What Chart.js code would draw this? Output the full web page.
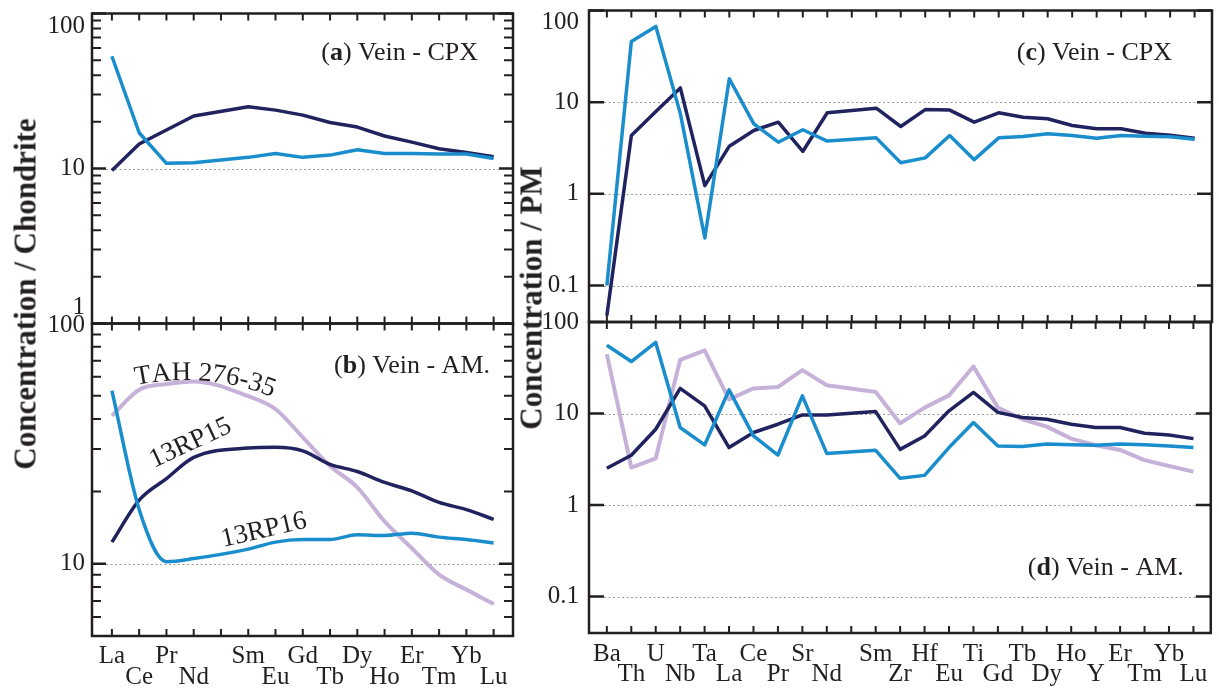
<!DOCTYPE html>
<html>
<head>
<meta charset="utf-8">
<script src="https://cdn.jsdelivr.net/npm/chart.js@4.4.0/dist/chart.umd.min.js"></script>
<style>
  body { margin: 0; background: #fff; }
  #wrap { position: relative; width: 1219px; height: 691px; overflow: hidden; background: #fff; }
  canvas { position: absolute; }
  .ytitle {
    position: absolute; font: bold 31px "Liberation Serif", serif; color: #231f20;
    white-space: nowrap; line-height: 1; transform: translate(-50%, -50%) rotate(-90deg);
  }
</style>
</head>
<body>
<div id="wrap">
  <canvas id="pa" width="520" height="330" style="left:0;top:0"></canvas>
  <canvas id="pb" width="520" height="391" style="left:0;top:300px"></canvas>
  <canvas id="pc" width="694" height="330" style="left:525px;top:0"></canvas>
  <canvas id="pd" width="694" height="391" style="left:525px;top:300px"></canvas>
  <div class="ytitle" style="left:25px;top:294px">Concentration / Chondrite</div>
  <div class="ytitle" style="left:531px;top:298px">Concentration / PM</div>
</div>
<script>
// REE (chondrite-normalised), '' = Pm slot
var reeLabels = ['La', 'Ce', 'Pr', 'Nd', '', 'Sm', 'Eu', 'Gd', 'Tb', 'Dy', 'Ho', 'Er', 'Tm', 'Yb', 'Lu'];
var reeRow = [0, 1, 0, 1, 0, 0, 1, 0, 1, 0, 1, 0, 1, 0, 1];

// spider diagram (primitive mantle normalised)
var pmLabels = ['Ba', 'Th', 'U', 'Nb', 'Ta', 'La', 'Ce', 'Pr', 'Sr', 'Nd', '', 'Sm', 'Zr', 'Hf', 'Eu', 'Ti', 'Gd', 'Tb', 'Dy', 'Ho', 'Y', 'Er', 'Tm', 'Yb', 'Lu'];
var pmRow = [0, 1, 0, 1, 0, 1, 0, 1, 0, 1, 0, 0, 1, 0, 1, 0, 1, 0, 1, 0, 1, 0, 1, 0, 1];

// (a) vein cpx
var cpxRee13RP16 = [53, 17.0, 10.8, 10.9, null, 11.8, 12.5, 11.8, 12.2, 13.2, 12.5, 12.5, 12.4, 12.4, 11.6];
var cpxRee13RP15 = [9.7, 14.4, 17.7, 21.8, null, 25.0, 23.8, 22.1, 19.8, 18.5, 16.2, 14.8, 13.4, 12.7, 11.9];
// (b) vein amphibole
var amRee13RP16 = [52.6, 16.8, 10.2, 10.5, null, 11.5, 12.3, 12.6, 12.6, 13.2, 13.1, 13.4, 12.9, 12.6, 12.2];
var amRee13RP15 = [12.3, 18.4, 22.6, 27.7, null, 30.3, 30.5, 29.5, 25.9, 24.2, 21.8, 20.1, 18.0, 16.8, 15.3];
var amReeTAH = [41.3, 53, 56, 57.4, null, 49.8, 44, 33.6, 25.5, 20.8, 15.0, 11.6, 9.0, 7.8, 6.8];
// (c) vein cpx
var cpxPm13RP16 = [0.1, 46, 67, 7.5, 0.33, 18, 5.8, 3.66, 5.0, 3.76, null, 4.08, 2.18, 2.47, 4.33, 2.36, 4.08, 4.23, 4.52, 4.33, 4.05, 4.33, 4.25, 4.2, 3.94];
var cpxPm13RP15 = [0.047, 4.33, 7.9, 14.3, 1.23, 3.31, 4.91, 6.05, 2.9, 7.66, null, 8.6, 5.43, 8.3, 8.2, 6.05, 7.66, 6.85, 6.6, 5.57, 5.13, 5.13, 4.59, 4.36, 4.05];
// (d) vein amphibole
var amPm13RP16 = [55.8, 37, 59.8, 7.03, 4.54, 18.1, 5.69, 3.52, 15.6, 3.65, null, 3.96, 1.96, 2.11, 4.25, 7.98, 4.42, 4.35, 4.65, 4.55, 4.5, 4.65, 4.55, 4.42, 4.25];
var amPm13RP15 = [2.52, 3.5, 6.73, 18.8, 12.1, 4.25, 6.2, 7.64, 9.66, 9.66, null, 10.5, 4.06, 5.69, 10.7, 17.0, 10.3, 9.04, 8.66, 7.64, 7.03, 7.03, 6.09, 5.83, 5.32];
var amPmTAH = [44.6, 2.57, 3.24, 38.5, 49, 14.3, 18.8, 19.5, 29.8, 20.4, null, 17.2, 7.8, 11.6, 15.8, 32.7, 11.6, 8.66, 7.2, 5.32, 4.5, 4.0, 3.1, 2.67, 2.32];

// axis ticks
var chondriteTicksA = [1, 10, 100];
var chondriteTicksB = [10, 100];
var pmTicks = [0.1, 1, 10, 100];

var LIGHT = '#1a8dcc', DARK = '#21235f', LAV = '#c6b2d8', INK = '#231f20';
var SERIF = '"Liberation Serif", "Times New Roman", serif';

function pts(arr) {
    return arr.map(function (v, i) { return { x: i, y: v }; });
}

function line(data, color, extra) {
    var d = {
        data: pts(data), borderColor: color, borderWidth: 3.5, pointRadius: 0,
        fill: false, tension: 0, spanGaps: true, borderJoinStyle: 'round'
    };
    return Object.assign(d, extra || {});
}

function minorTicks(lo, hi) {
    var out = [];
    for (var d = lo; d < hi; d *= 10) {
        for (var k = 2; k <= 9; k++) out.push(k * d);
    }
    return out;
}

// text along a gently bending baseline
function bentText(ctx, str, x, y, a0, a1) {
    var ws = str.split('').map(function (c) { return ctx.measureText(c).width; });
    var total = ws.reduce(function (s, w) { return s + w; }, 0);
    var run = 0;
    str.split('').forEach(function (c, i) {
        var ang = (a0 + (a1 - a0) * (run + ws[i] / 2) / total) * Math.PI / 180;
        ctx.save();
        ctx.translate(x, y);
        ctx.rotate(ang);
        ctx.fillText(c, 0, 0);
        ctx.restore();
        x += ws[i] * Math.cos(ang);
        y += ws[i] * Math.sin(ang);
        run += ws[i];
    });
}

function framePlugin(cfg) {
    return {
        id: 'frame',
        beforeDatasetsDraw: function (chart) {
            var ctx = chart.ctx, a = chart.chartArea, ys = chart.scales.y;
            ctx.save();
            ctx.strokeStyle = '#9a9a9a';
            ctx.lineWidth = 1;
            ctx.setLineDash([2, 2.5]);
            cfg.grid.forEach(function (v) {
                var py = Math.round(ys.getPixelForValue(v)) + 0.5;
                ctx.beginPath();
                ctx.moveTo(a.left + cfg.majorLen, py);
                ctx.lineTo(a.right - cfg.majorLen, py);
                ctx.stroke();
            });
            ctx.restore();
        },
        afterDatasetsDraw: function (chart) {
            var ctx = chart.ctx, a = chart.chartArea, xs = chart.scales.x, ys = chart.scales.y;
            ctx.save();
            ctx.strokeStyle = INK;
            ctx.fillStyle = INK;

            // x ticks, inside, top and bottom
            ctx.lineWidth = 2;
            for (var i = 0; i < cfg.n; i++) {
                var px = xs.getPixelForValue(i);
                ctx.beginPath();
                ctx.moveTo(px, a.top); ctx.lineTo(px, a.top + 7);
                ctx.moveTo(px, a.bottom); ctx.lineTo(px, a.bottom - 7);
                ctx.stroke();
            }
            // y ticks, inside, left and right
            function ytick(v, len, w) {
                var py = ys.getPixelForValue(v);
                ctx.lineWidth = w;
                ctx.beginPath();
                ctx.moveTo(a.left, py); ctx.lineTo(a.left + len, py);
                ctx.moveTo(a.right, py); ctx.lineTo(a.right - len, py);
                ctx.stroke();
            }
            cfg.minor.forEach(function (v) { ytick(v, cfg.minorLen, 2); });
            cfg.labels.forEach(function (t) { ytick(t.v, cfg.majorLen, 2.5); });

            // frame
            ctx.lineWidth = 2.5;
            ctx.strokeRect(a.left, a.top, a.right - a.left, a.bottom - a.top);

            // y tick labels
            ctx.font = '25px ' + SERIF;
            ctx.textAlign = 'right';
            ctx.textBaseline = 'middle';
            cfg.labels.forEach(function (t) {
                ctx.fillText(String(t.v), a.left - cfg.gap, ys.getPixelForValue(t.v) + (t.dy || 0));
            });

            // panel tag, e.g. (a) Vein - CPX
            var parts = [['(', ''], [cfg.tag[0], 'bold '], [') ' + cfg.tag[1], '']];
            var widths = parts.map(function (p) {
                ctx.font = p[1] + '26px ' + SERIF;
                return ctx.measureText(p[0]).width;
            });
            var tx = a.right - cfg.tagPos[0] - widths.reduce(function (s, w) { return s + w; }, 0);
            var ty = a.top + cfg.tagPos[1];
            ctx.textAlign = 'left';
            ctx.textBaseline = 'alphabetic';
            parts.forEach(function (p, k) {
                ctx.font = p[1] + '26px ' + SERIF;
                ctx.fillText(p[0], tx, ty);
                tx += widths[k];
            });

            if (cfg.extra) cfg.extra(ctx, chart);
            ctx.restore();
        }
    };
}

function xScale(n, labels, rows, show, height, pad, lh) {
    return {
        type: 'linear',
        min: -0.73,
        max: n - 1 + 0.71,
        display: show,
        afterBuildTicks: function (s) {
            s.ticks = labels.map(function (_, i) { return { value: i }; });
        },
        afterFit: function (s) { if (show) s.height = height; },
        grid: { display: false, drawTicks: false },
        border: { display: false },
        ticks: {
            autoSkip: false, maxRotation: 0, minRotation: 0, padding: pad, color: INK,
            font: { family: SERIF, size: 25, lineHeight: lh + 'px' },
            callback: function (v) {
                var i = Math.round(v);
                return rows[i] ? ['', labels[i]] : labels[i];
            }
        }
    };
}

function makeChart(id, datasets, x, yMin, yMax, pad, frame, smooth) {
    if (smooth) datasets.forEach(function (d) { d.cubicInterpolationMode = 'monotone'; d.tension = 0.4; });
    return new Chart(document.getElementById(id).getContext('2d'), {
        type: 'line',
        data: { datasets: datasets },
        options: {
            responsive: false,
            animation: false,
            events: [],
            layout: { padding: pad },
            plugins: { legend: { display: false }, tooltip: { enabled: false } },
            scales: {
                x: x,
                y: { type: 'logarithmic', min: yMin, max: yMax, display: false }
            }
        },
        plugins: [framePlugin(frame)]
    });
}

// (a)
makeChart('pa',
    [line(cpxRee13RP16, LIGHT), line(cpxRee13RP15, DARK)],
    xScale(15, reeLabels, reeRow, false),
    1, 100,
    { left: 92, top: 13.5, right: 7, bottom: 6.5 },
    {
        n: 15, grid: [10], minor: minorTicks(1, 100), majorLen: 14, minorLen: 9, gap: 7,
        labels: [{ v: 100, dy: 13 }, { v: 10 }, { v: 1, dy: -16 }],
        tag: ['a', 'Vein - CPX'], tagPos: [35, 46.5]
    });

// (b)
makeChart('pb',
    [line(amRee13RP16, LIGHT), line(amRee13RP15, DARK), line(amReeTAH, LAV, { borderWidth: 4 })],
    xScale(15, reeLabels, reeRow, true, 55, 9.5, 21),
    5, 100,
    { left: 92, top: 23.5, right: 7, bottom: 0 },
    {
        n: 15, grid: [10], minor: minorTicks(1, 100).filter(function (v) { return v > 5; }),
        majorLen: 14, minorLen: 9, gap: 7,
        labels: [{ v: 100, dy: 2 }, { v: 10 }],
        tag: ['b', 'Vein - AM.'], tagPos: [23, 49.5],
        extra: function (ctx) {
            ctx.font = '27px ' + SERIF;
            ctx.textAlign = 'left';
            ctx.textBaseline = 'alphabetic';
            bentText(ctx, 'TAH 276-35', 136, 85, -12, 22);
            ctx.save(); ctx.translate(154, 168); ctx.rotate(-25 * Math.PI / 180); ctx.fillText('13RP15', 0, 0); ctx.restore();
            ctx.save(); ctx.translate(223, 247); ctx.rotate(-13 * Math.PI / 180); ctx.fillText('13RP16', 0, 0); ctx.restore();
        }
    }, true);

// (c)
makeChart('pc',
    [line(cpxPm13RP16, LIGHT), line(cpxPm13RP15, DARK)],
    xScale(25, pmLabels, pmRow, false),
    0.04, 100,
    { left: 64, top: 10.5, right: 7, bottom: 8 },
    {
        n: 25, grid: [10, 1, 0.1], minor: [], majorLen: 15, minorLen: 0, gap: 10,
        labels: [{ v: 100, dy: 12 }, { v: 10 }, { v: 1 }, { v: 0.1 }],
        tag: ['c', 'Vein - CPX'], tagPos: [40, 49.5]
    });

// (d)
makeChart('pd',
    [line(amPm13RP16, LIGHT), line(amPm13RP15, DARK), line(amPmTAH, LAV, { borderWidth: 4 })],
    xScale(25, pmLabels, pmRow, true, 58, 11.5, 20),
    0.04, 100,
    { left: 64, top: 22, right: 7, bottom: 0 },
    {
        n: 25, grid: [10, 1, 0.1], minor: [], majorLen: 15, minorLen: 0, gap: 10,
        labels: [{ v: 100 }, { v: 10 }, { v: 1 }, { v: 0.1 }],
        tag: ['d', 'Vein - AM.'], tagPos: [27, 253]
    });
</script>
</body>
</html>
